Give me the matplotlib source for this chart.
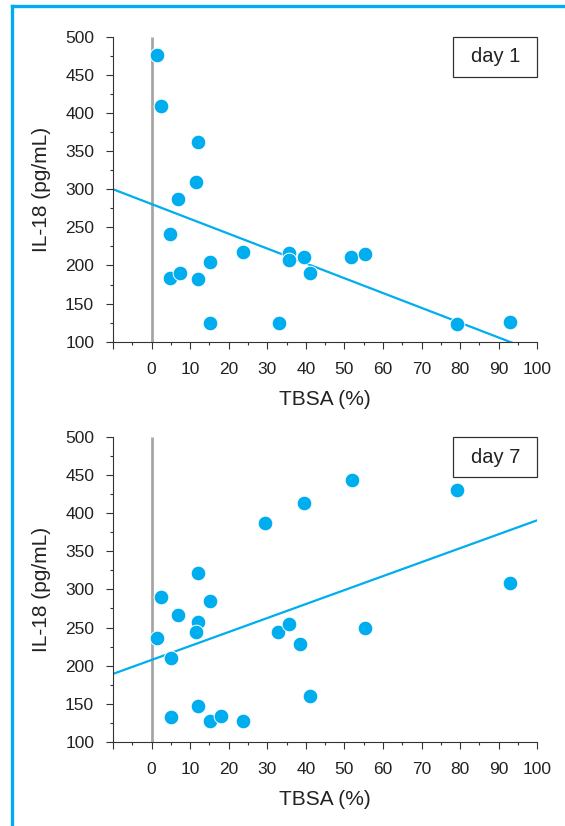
import matplotlib
matplotlib.use("Agg")
import matplotlib.pyplot as plt
import matplotlib.ticker as ticker
from matplotlib.lines import Line2D
from matplotlib.patches import Rectangle

plt.rcParams["font.family"] = ["Liberation Sans", "DejaVu Sans"]

CYAN = "#00aeef"
TEXT = "#222222"

# day 1: TBSA (%) vs IL-18 (pg/mL)
day1_tbsa = [1.5, 2.4, 12.0, 11.5, 6.9, 4.8, 4.8, 7.4, 12.0, 15.1, 15.1,
             23.8, 33.0, 35.5, 35.5, 39.5, 41.0, 51.8, 55.4, 79.3, 92.9]
day1_il18 = [476, 409, 362, 309, 287, 241, 184, 190, 182, 204, 125,
             218, 125, 216, 207, 211, 190, 211, 215, 123, 126]
day1_fit = (-1.945, 280.5)  # slope, intercept

# day 7
day7_tbsa = [1.5, 2.4, 5.0, 5.0, 6.9, 12.0, 12.0, 11.6, 12.0, 15.1, 15.1, 17.9,
             23.8, 29.4, 32.9, 35.5, 38.5, 39.6, 41.0, 51.9, 55.3, 79.2, 92.8]
day7_il18 = [236, 290, 210, 132, 267, 321, 257, 244, 147, 285, 127, 134,
             127, 387, 244, 254, 228, 413, 160, 444, 249, 431, 308]
day7_fit = (1.836, 207.4)

x_ticks = list(range(-10, 101, 10))
x_labels = [""] + [str(v) for v in range(0, 101, 10)]
y_ticks = list(range(100, 501, 50))


def draw_panel(ax, tbsa, il18, fit, tag):
    ax.plot([0, 0], [100, 500], color="#a6a6a6", lw=2.0, zorder=1, solid_capstyle="butt")
    slope, icpt = fit
    xs = [-10, 100]
    ax.plot(xs, [slope * x + icpt for x in xs], color=CYAN, lw=1.6, zorder=2)
    ax.scatter(tbsa, il18, s=112, color=CYAN, edgecolors="white", linewidths=0.7, zorder=3,
               clip_on=False)

    ax.set_xlim(-10, 100)
    ax.set_ylim(100, 500)
    ax.set_xticks(x_ticks)
    ax.set_xticklabels(x_labels)
    ax.set_yticks(y_ticks)
    ax.xaxis.set_minor_locator(ticker.MultipleLocator(5))
    ax.yaxis.set_minor_locator(ticker.MultipleLocator(25))
    ax.tick_params(which="major", length=5, width=0.8, color="#333333", labelsize=12.5,
                   labelcolor=TEXT)
    ax.tick_params(axis="x", which="major", pad=9.5)
    ax.tick_params(axis="y", which="major", pad=8.5)
    ax.tick_params(which="minor", length=2.5, width=0.8, color="#333333")
    for side in ("top", "right"):
        ax.spines[side].set_visible(False)
    for side in ("left", "bottom"):
        ax.spines[side].set_color("#333333")
        ax.spines[side].set_linewidth(0.8)

    ax.set_xlabel("TBSA (%)", fontsize=15, color=TEXT, labelpad=9.5)
    ax.set_ylabel("IL-18 (pg/mL)", fontsize=15, color=TEXT, labelpad=10)

    ax.add_patch(Rectangle((0.8015, 0.868), 0.1985, 0.132, transform=ax.transAxes,
                           facecolor="white", edgecolor="#333333", lw=0.9, zorder=4,
                           clip_on=False))
    ax.text(0.901, 0.934, tag, transform=ax.transAxes, ha="center", va="center",
            fontsize=14.5, color=TEXT, zorder=5)


fig = plt.figure(figsize=(5.65, 8.26), dpi=100)
ax1 = fig.add_axes([0.2, 0.5863, 0.751, 0.3693])
ax2 = fig.add_axes([0.2, 0.1021, 0.751, 0.3685])

draw_panel(ax1, day1_tbsa, day1_il18, day1_fit, "day 1")
draw_panel(ax2, day7_tbsa, day7_il18, day7_fit, "day 7")

# cyan frame on the top and left edges
fig.add_artist(Line2D([0.0212, 1.0], [0.9925, 0.9925], color=CYAN, lw=2.4,
                      transform=fig.transFigure))
fig.add_artist(Line2D([0.0212, 0.0212], [0.0, 0.9925], color=CYAN, lw=2.4,
                      transform=fig.transFigure))

fig.savefig("out.png", dpi=100)
